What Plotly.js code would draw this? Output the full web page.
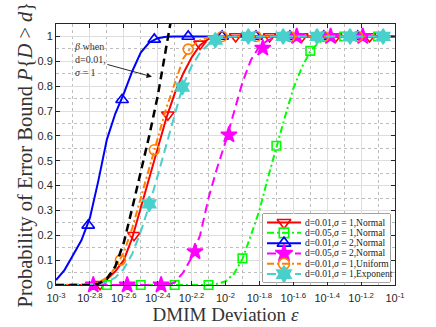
<!DOCTYPE html>
<html>
<head>
<meta charset="utf-8">
<script src="https://cdn.plot.ly/plotly-3.0.1.min.js"></script>
<style>
  html, body { margin: 0; padding: 0; background: #fff; }
  #chart { width: 436px; height: 327px; }
</style>
</head>
<body>
<div id="chart"></div>
<script>
// x values are log10 of the DMIM deviation epsilon, y is P{D > d}
var logEpsRed = [-3, -2.8, -2.75, -2.7, -2.65, -2.6, -2.55, -2.5, -2.45, -2.4, -2.35, -2.3, -2.25, -2.2, -2.15, -2.1, -2.05, -2.0, -1.0];
var probRed   = [0, 0, 0.005, 0.022, 0.055, 0.10, 0.19, 0.31, 0.44, 0.56, 0.67, 0.77, 0.85, 0.915, 0.965, 0.99, 0.998, 1, 1];
var markEpsRed  = [-2.74, -2.54, -2.34, -2.15, -1.94, -1.74, -1.55, -1.35, -1.15];
var markProbRed = [0.003, 0.20, 0.685, 0.97, 1, 1, 1, 1, 1];

var logEpsGreen = [-3, -2.1, -2.05, -2.0, -1.95, -1.9, -1.85, -1.8, -1.75, -1.7, -1.65, -1.6, -1.55, -1.5, -1.45, -1.4, -1.35, -1.3, -1.0];
var probGreen   = [0, 0, 0.005, 0.015, 0.045, 0.105, 0.2, 0.3, 0.43, 0.555, 0.675, 0.79, 0.875, 0.94, 0.975, 0.992, 0.999, 1, 1];
var markEpsGreen  = [-2.7, -2.5, -2.3, -2.1, -1.9, -1.7, -1.5, -1.3, -1.1];
var markProbGreen = [0, 0, 0, 0, 0.107, 0.56, 0.942, 1, 1];

var logEpsBlue = [-3, -2.95, -2.9, -2.85, -2.8, -2.75, -2.7, -2.65, -2.6, -2.55, -2.5, -2.45, -2.4, -2.35, -2.3, -2.2, -1.0];
var probBlue   = [0.02, 0.06, 0.12, 0.18, 0.27, 0.42, 0.585, 0.69, 0.77, 0.86, 0.935, 0.975, 0.993, 0.999, 1, 1, 1];
var markEpsBlue  = [-2.81, -2.61, -2.42, -2.22, -2.02, -1.82, -1.62, -1.42, -1.22];
var markProbBlue = [0.24, 0.745, 0.988, 1, 1, 1, 1, 1, 1];

var logEpsMagenta = [-3, -2.35, -2.3, -2.25, -2.2, -2.15, -2.1, -2.05, -2.0, -1.95, -1.9, -1.85, -1.8, -1.75, -1.7, -1.65, -1.0];
var probMagenta   = [0, 0, 0.01, 0.05, 0.11, 0.2, 0.35, 0.47, 0.575, 0.69, 0.815, 0.905, 0.96, 0.985, 0.997, 1, 1];
var markEpsMagenta  = [-2.78, -2.58, -2.38, -2.18, -1.98, -1.78, -1.58, -1.38, -1.19];
var markProbMagenta = [0, 0, 0, 0.134, 0.604, 0.953, 1, 1, 1];

var logEpsOrange = [-3, -2.8, -2.75, -2.7, -2.65, -2.6, -2.55, -2.5, -2.45, -2.4, -2.35, -2.3, -2.25, -2.2, -2.15, -2.1, -2.05, -1.0];
var probOrange   = [0, 0.002, 0.01, 0.03, 0.07, 0.13, 0.23, 0.35, 0.48, 0.6, 0.71, 0.81, 0.91, 0.96, 0.985, 0.997, 1, 1];
var markEpsOrange  = [-2.62, -2.42, -2.22, -2.02, -1.82, -1.62, -1.42, -1.22];
var markProbOrange = [0.10, 0.544, 0.949, 1, 1, 1, 1, 1];

var logEpsCyan = [-3, -2.8, -2.75, -2.7, -2.65, -2.6, -2.55, -2.5, -2.45, -2.4, -2.35, -2.3, -2.25, -2.2, -2.15, -2.1, -2.05, -2.0, -1.95, -1.0];
var probCyan   = [0, 0, 0.003, 0.012, 0.03, 0.065, 0.125, 0.215, 0.32, 0.44, 0.565, 0.69, 0.805, 0.88, 0.935, 0.967, 0.988, 0.997, 1, 1];
var markEpsCyan  = [-2.45, -2.255, -2.06, -1.865, -1.66, -1.46, -1.265, -1.07];
var markProbCyan = [0.326, 0.796, 0.985, 1, 1, 1, 1, 1];

// beta curve (black dashed, no legend)
var logEpsBeta = [-3, -2.8, -2.75, -2.7, -2.65, -2.6, -2.55, -2.5, -2.45, -2.4, -2.35, -2.3];
var probBeta   = [0, 0, 0.005, 0.025, 0.075, 0.17, 0.31, 0.45, 0.6, 0.76, 0.95, 1.15];

var xTickExp = [-3, -2.8, -2.6, -2.4, -2.2, -2, -1.8, -1.6, -1.4, -1.2, -1];
var xMinorExp = [-2.9, -2.7, -2.5, -2.3, -2.1, -1.9, -1.7, -1.5, -1.3, -1.1];
var yTicks = [0, 0.1, 0.2, 0.3, 0.4, 0.5, 0.6, 0.7, 0.8, 0.9, 1];
var yMinor = [0.05, 0.15, 0.25, 0.35, 0.45, 0.55, 0.65, 0.75, 0.85, 0.95];

var legendNames = [
  'd=0.01,<i>σ</i> = 1,Normal',
  'd=0.05,<i>σ</i> = 1,Normal',
  'd=0.01,<i>σ</i> = 2,Normal',
  'd=0.05,<i>σ</i> = 2,Normal',
  'd=0.01,<i>σ</i> = 1,Uniform',
  'd=0.01,<i>σ</i> = 1,Exponent'
];

function pow10(a) { return a.map(function (u) { return Math.pow(10, u); }); }

var series = [
  {lx: logEpsRed, y: probRed, mx: markEpsRed, my: markProbRed, color: '#ff0000', dash: 'solid', symbol: 'triangle-down-open', size: 11},
  {lx: logEpsGreen, y: probGreen, mx: markEpsGreen, my: markProbGreen, color: '#00ff00', dash: '7px,3px,2px,3px', symbol: 'square-open', size: 8.5},
  {lx: logEpsBlue, y: probBlue, mx: markEpsBlue, my: markProbBlue, color: '#0000ff', dash: 'solid', symbol: 'triangle-up-open', size: 11},
  {lx: logEpsMagenta, y: probMagenta, mx: markEpsMagenta, my: markProbMagenta, color: '#ff00ff', dash: '9px,5px', symbol: 'star', size: 12},
  {lx: logEpsOrange, y: probOrange, mx: markEpsOrange, my: markProbOrange, color: '#ff8000', dash: '7px,3px,2px,3px', symbol: 'circle-open', size: 10},
  {lx: logEpsCyan, y: probCyan, mx: markEpsCyan, my: markProbCyan, color: '#48d1cc', dash: '9px,5px', symbol: 'hexagram', size: 11.5}
];

var data = [];
var legendNotes = [];

series.forEach(function (s, i) {
  data.push({
    x: pow10(s.lx), y: s.y, mode: 'lines', showlegend: false, hoverinfo: 'skip',
    line: {color: s.color, width: 2, dash: s.dash}
  });
  data.push({
    x: pow10(s.mx), y: s.my, mode: 'markers', showlegend: false, cliponaxis: false,
    marker: {symbol: s.symbol, size: s.size, color: s.color, line: {color: s.color, width: 1.6}}
  });
  // hand made legend rows on a hidden helper axis
  data.push({
    x: [4, 38], y: [i, i], xaxis: 'x2', yaxis: 'y2', mode: 'lines', showlegend: false, hoverinfo: 'skip',
    line: {color: s.color, width: 2, dash: s.dash}
  });
  data.push({
    x: [21], y: [i], xaxis: 'x2', yaxis: 'y2', mode: 'markers', showlegend: false, hoverinfo: 'skip',
    marker: {symbol: s.symbol, size: s.size + 1, color: s.color, line: {color: s.color, width: 1.6}}
  });
  legendNotes.push({
    xref: 'x2', yref: 'y2', x: 40, y: i, xanchor: 'left', yanchor: 'middle', showarrow: false,
    text: legendNames[i], font: {family: 'Liberation Serif', size: 9.5, color: '#222'}
  });
});

data.push({
  x: pow10(logEpsBeta), y: probBeta, mode: 'lines', showlegend: false, hoverinfo: 'skip',
  line: {color: '#000', width: 2.5, dash: '8px,5px'}
});

var axisFont = {family: 'Liberation Sans, Arial, sans-serif', size: 11, color: '#262626'};
var titleFont = {family: 'Liberation Serif, Times New Roman, serif', size: 19, color: '#333'};

var layout = {
  width: 436, height: 327,
  paper_bgcolor: '#fff', plot_bgcolor: '#fff',
  margin: {l: 56, r: 41, t: 24, b: 42},
  showlegend: false,
  xaxis: {
    type: 'log', range: [-3, -1],
    tickmode: 'array', tickvals: pow10(xTickExp),
    ticktext: xTickExp.map(function (e) { return '10<sup>' + e + '</sup>'; }),
    ticks: 'inside', ticklen: 4, tickcolor: '#262626', ticklabelstandoff: 3,
    showline: true, linecolor: '#262626', linewidth: 1, mirror: 'ticks',
    showgrid: true, gridcolor: '#dedede', gridwidth: 1, zeroline: false,
    minor: {tickmode: 'array', tickvals: pow10(xMinorExp), showgrid: true, gridcolor: '#bdbdbd', griddash: 'dot', ticks: ''},
    tickfont: axisFont,
    title: {text: 'DMIM Deviation <i>ε</i>', font: titleFont, standoff: 1}
  },
  yaxis: {
    range: [0, 1.05],
    tickmode: 'array', tickvals: yTicks, ticktext: yTicks.map(String),
    ticks: 'inside', ticklen: 4, tickcolor: '#262626',
    showline: true, linecolor: '#262626', linewidth: 1, mirror: 'ticks',
    showgrid: true, gridcolor: '#dedede', gridwidth: 1, zeroline: false,
    minor: {tickmode: 'array', tickvals: yMinor, showgrid: true, gridcolor: '#bdbdbd', griddash: 'dot', ticks: ''},
    tickfont: axisFont
  },
  xaxis2: {domain: [0.6106, 0.9853], range: [0, 127], visible: false, fixedrange: true, anchor: 'y2'},
  yaxis2: {domain: [0.0115, 0.272], range: [5.77, -0.83], visible: false, fixedrange: true, anchor: 'x2'},
  shapes: [{
    type: 'rect', xref: 'x2 domain', yref: 'y2 domain', x0: 0, x1: 1, y0: 0, y1: 1,
    fillcolor: '#fff', line: {color: '#444', width: 1}, layer: 'below'
  }],
  annotations: legendNotes.concat([{
    xref: 'x', yref: 'y', x: -2.434, y: 0.838, ax: -62, ay: -17,
    text: '<i>β</i> when<br>d=0.01,<br><i>σ</i> = 1', align: 'left',
    showarrow: true, arrowhead: 2, arrowsize: 1.2, arrowwidth: 0.9, arrowcolor: '#111',
    font: {family: 'Liberation Serif', size: 10, color: '#333'}
  }, {
    // y axis title, placed by hand to sit closer to the tick labels
    xref: 'paper', yref: 'paper', x: 0, y: 0.5, xshift: -31, xanchor: 'center', yanchor: 'middle',
    textangle: -90, showarrow: false,
    text: 'Probability of Error Bound <i>P</i>{<i>D</i> &gt; <i>d</i>}',
    font: {family: titleFont.family, size: 20.5, color: '#333'}
  }])
};

Plotly.newPlot('chart', data, layout, {displayModeBar: false, staticPlot: true});
</script>
</body>
</html>
